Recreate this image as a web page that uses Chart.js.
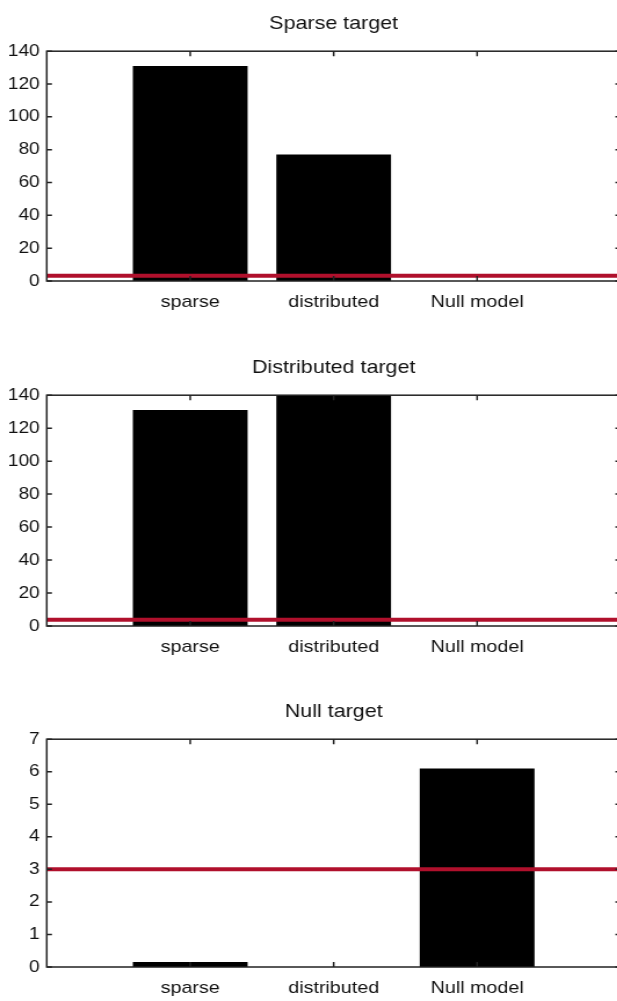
<!DOCTYPE html>
<html>
<head>
<meta charset="utf-8">
<script src="https://cdn.jsdelivr.net/npm/chart.js@4.4.1/dist/chart.umd.min.js"></script>
<style>
html, body { margin: 0; padding: 0; background: #fff; overflow: hidden; width: 617px; height: 1001px; }
.panel { position: absolute; left: 0; transform: scaleX(1.16); transform-origin: 0 0; }
</style>
</head>
<body>
<div class="panel" style="top:0px"><canvas id="c1" width="550" height="330"></canvas></div>
<div class="panel" style="top:344px"><canvas id="c2" width="550" height="331"></canvas></div>
<div class="panel" style="top:688px"><canvas id="c3" width="550" height="328"></canvas></div>
<script>
const categories = ["sparse", "distributed", "Null model"];
const titles = ["Sparse target", "Distributed target", "Null target"];
const sparseTarget = [131, 77, 0];
const distributedTarget = [131, 146, 0];
const nullTarget = [0.15, 0, 6.1];
const chanceLevels = [3.2, 3.8, 3.0];
const yMaxes = [140, 140, 7];
const ySteps = [20, 20, 1];

const FONT = "'Liberation Sans', Arial, sans-serif";

// box frame with inward ticks, like the original plot
const framePlugin = {
	id: "frame",
	afterDatasetsDraw(chart) {
		const { ctx, chartArea: a, scales } = chart;
		const x = scales.x, y = scales.y;
		ctx.save();
		ctx.strokeStyle = "#222";
		ctx.lineWidth = 1.5;
		ctx.strokeRect(a.left, a.top, a.right - a.left, a.bottom - a.top);
		ctx.beginPath();
		y.ticks.forEach((t) => {
			const py = y.getPixelForValue(t.value);
			ctx.moveTo(a.left, py);
			ctx.lineTo(a.left + 4.5, py);
			ctx.moveTo(a.right, py);
			ctx.lineTo(a.right - 4.5, py);
		});
		categories.forEach((c, i) => {
			const px = x.getPixelForValue(i + 1);
			ctx.moveTo(px, a.top);
			ctx.lineTo(px, a.top + 5);
			ctx.moveTo(px, a.bottom);
			ctx.lineTo(px, a.bottom - 5);
		});
		ctx.stroke();
		ctx.restore();
	},
};

function makePanel(id, values, title, chance, yMax, yStep) {
	const canvas = document.getElementById(id);
	return new Chart(canvas, {
		type: "bar",
		data: {
			datasets: [
				{
					type: "line",
					data: [{ x: 0, y: chance }, { x: categories.length + 1, y: chance }],
					borderColor: "#b0102c",
					borderWidth: 4,
					pointRadius: 0,
					order: 0,
				},
				{
					data: values.map((v, i) => ({ x: i + 1, y: v })),
					backgroundColor: "#000",
					borderWidth: 0,
					barPercentage: 0.8,
					categoryPercentage: 1,
					order: 1,
				},
			],
		},
		options: {
			responsive: false,
			animation: false,
			events: [],
			layout: { padding: { left: 0, right: 15, top: 0, bottom: 0 } },
			plugins: {
				legend: { display: false },
				tooltip: { enabled: false },
				title: {
					display: true,
					fullSize: false,
					text: title,
					color: "#111",
					font: { family: FONT, size: 18.5, weight: "normal" },
					padding: { top: 13, bottom: 16 },
				},
			},
			scales: {
				x: {
					type: "linear",
					offset: false,
					min: 0,
					max: categories.length + 1,
					grid: { display: false, drawTicks: false, offset: false },
					border: { display: false },
					afterFit: (s) => { s.height = 49; },
					ticks: {
						stepSize: 1,
						padding: 11,
						autoSkip: false,
						maxRotation: 0,
						color: "#111",
						font: { family: FONT, size: 17 },
						callback: (v) => categories[v - 1] || "",
					},
				},
				y: {
					min: 0,
					max: yMax,
					grid: { display: false, drawTicks: false },
					border: { display: false },
					afterFit: (s) => { s.width = 40.3; },
					ticks: {
						stepSize: yStep,
						padding: 6,
						color: "#111",
						font: { family: FONT, size: 16.5 },
					},
				},
			},
		},
		plugins: [framePlugin],
	});
}

makePanel("c1", sparseTarget, titles[0], chanceLevels[0], yMaxes[0], ySteps[0]);
makePanel("c2", distributedTarget, titles[1], chanceLevels[1], yMaxes[1], ySteps[1]);
makePanel("c3", nullTarget, titles[2], chanceLevels[2], yMaxes[2], ySteps[2]);
</script>
</body>
</html>
